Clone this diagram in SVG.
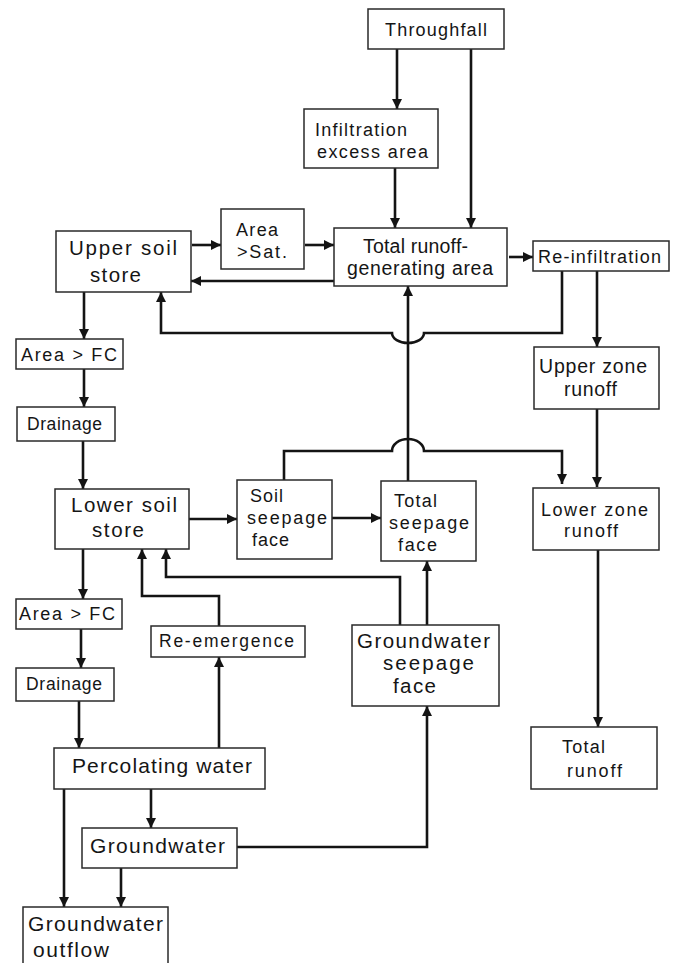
<svg xmlns="http://www.w3.org/2000/svg" width="677" height="963" viewBox="0 0 677 963">
<style>
.box{fill:#fff;stroke:#2a2a2a;stroke-width:1.5}
.t{font-family:"Liberation Sans",Arial,sans-serif;fill:#151515}
.s{font-size:18px}
.xs{font-size:17.5px}
.m{font-size:19.5px}
.l{font-size:20.5px}
.xl{font-size:21px}
.c{fill:none;stroke:#141414;stroke-width:2.6}
.a{marker-end:url(#ah)}
</style>
<defs>
<marker id="ah" markerUnits="userSpaceOnUse" markerWidth="10" markerHeight="11" viewBox="0 0 10 11" refX="10" refY="5.5" orient="auto">
<path d="M0,0.5 L10,5.5 L0,10.5 z" fill="#141414"/>
</marker>
</defs>
<rect width="677" height="963" fill="#fff"/>
<g id="connectors">
<path class="c a" d="M397,49 V109"/>
<path class="c a" d="M471,49 V228"/>
<path class="c a" d="M395,168 V228"/>
<path class="c a" d="M192,245 H221"/>
<path class="c a" d="M305,245 H334"/>
<path class="c a" d="M334,281 H191"/>
<path class="c a" d="M509,257 H533"/>
<path class="c a" d="M562,271 V333 H424 A16 10 0 0 1 392 333 H161 V292"/>
<path class="c a" d="M597,271 V347"/>
<path class="c a" d="M84,292 V339"/>
<path class="c a" d="M84,369 V407"/>
<path class="c a" d="M83,441 V489"/>
<path class="c a" d="M597,409 V487"/>
<path class="c a" d="M284,480 V451 H392 A16 12 0 0 1 424 451 H562 V484"/>
<path class="c a" d="M408,481 V286"/>
<path class="c a" d="M189,519 H237"/>
<path class="c a" d="M332,518 H381"/>
<path class="c a" d="M598,550 V727"/>
<path class="c a" d="M83,549 V599"/>
<path class="c a" d="M81,629 V668"/>
<path class="c a" d="M79,701 V748"/>
<path class="c a" d="M219,748 V657"/>
<path class="c a" d="M219,626 V596 H142 V549"/>
<path class="c a" d="M400,625 V577 H166 V549"/>
<path class="c a" d="M427,625 V561"/>
<path class="c a" d="M151,789 V828"/>
<path class="c a" d="M237,847 H427 V706"/>
<path class="c a" d="M64,789 V907"/>
<path class="c a" d="M121,868 V907"/>
</g>
<g id="throughfall"><rect class="box" x="368" y="9" width="136" height="40"/>
<text class="t s" x="385" y="36" textLength="102" lengthAdjust="spacing">Throughfall</text></g>
<g id="infiltration-excess"><rect class="box" x="304" y="109" width="134" height="59"/>
<text class="t s" x="315" y="136" textLength="92" lengthAdjust="spacing">Infiltration</text>
<text class="t s" x="317" y="158" textLength="111" lengthAdjust="spacing">excess area</text></g>
<g id="area-sat"><rect class="box" x="221" y="209" width="83" height="60"/>
<text class="t s" x="236" y="236" textLength="42" lengthAdjust="spacing">Area</text>
<text class="t s" x="237" y="258" textLength="50" lengthAdjust="spacing">&gt;Sat.</text></g>
<g id="total-runoff-generating"><rect class="box" x="334" y="228" width="173" height="58"/>
<text class="t m" x="363" y="253" textLength="105" lengthAdjust="spacing">Total runoff-</text>
<text class="t m" x="347" y="275" textLength="146" lengthAdjust="spacing">generating area</text></g>
<g id="re-infiltration"><rect class="box" x="533" y="241" width="136" height="30"/>
<text class="t s" x="538" y="263" textLength="123" lengthAdjust="spacing">Re-infiltration</text></g>
<g id="upper-soil-store"><rect class="box" x="56" y="231" width="135" height="61"/>
<text class="t l" x="69" y="255" textLength="108" lengthAdjust="spacing">Upper soil</text>
<text class="t l" x="90" y="282" textLength="51" lengthAdjust="spacing">store</text></g>
<g id="area-fc-1"><rect class="box" x="16" y="339" width="107" height="30"/>
<text class="t s" x="21" y="361" textLength="96" lengthAdjust="spacing">Area &gt; FC</text></g>
<g id="drainage-1"><rect class="box" x="17" y="407" width="98" height="34"/>
<text class="t xs" x="27" y="430" textLength="75" lengthAdjust="spacing">Drainage</text></g>
<g id="upper-zone-runoff"><rect class="box" x="534" y="347" width="125" height="62"/>
<text class="t m" x="539" y="373" textLength="108" lengthAdjust="spacing">Upper zone</text>
<text class="t m" x="564" y="396" textLength="53" lengthAdjust="spacing">runoff</text></g>
<g id="soil-seepage-face"><rect class="box" x="237" y="480" width="95" height="79"/>
<text class="t s" x="250" y="502" textLength="33" lengthAdjust="spacing">Soil</text>
<text class="t s" x="247" y="524" textLength="80" lengthAdjust="spacing">seepage</text>
<text class="t s" x="252" y="546" textLength="37" lengthAdjust="spacing">face</text></g>
<g id="total-seepage-face"><rect class="box" x="381" y="481" width="95" height="80"/>
<text class="t s" x="394" y="507" textLength="43" lengthAdjust="spacing">Total</text>
<text class="t s" x="389" y="529" textLength="80" lengthAdjust="spacing">seepage</text>
<text class="t s" x="398" y="551" textLength="39" lengthAdjust="spacing">face</text></g>
<g id="lower-zone-runoff"><rect class="box" x="533" y="488" width="126" height="62"/>
<text class="t s" x="541" y="516" textLength="107" lengthAdjust="spacing">Lower zone</text>
<text class="t s" x="564" y="537" textLength="54" lengthAdjust="spacing">runoff</text></g>
<g id="lower-soil-store"><rect class="box" x="55" y="489" width="134" height="60"/>
<text class="t l" x="71" y="512" textLength="106" lengthAdjust="spacing">Lower soil</text>
<text class="t l" x="92" y="537" textLength="52" lengthAdjust="spacing">store</text></g>
<g id="area-fc-2"><rect class="box" x="16" y="599" width="106" height="30"/>
<text class="t s" x="19" y="620" textLength="96" lengthAdjust="spacing">Area &gt; FC</text></g>
<g id="re-emergence"><rect class="box" x="151" y="626" width="154" height="31"/>
<text class="t xs" x="159" y="647" textLength="135" lengthAdjust="spacing">Re-emergence</text></g>
<g id="groundwater-seepage-face"><rect class="box" x="352" y="625" width="147" height="81"/>
<text class="t l" x="357" y="648" textLength="133" lengthAdjust="spacing">Groundwater</text>
<text class="t l" x="383" y="670" textLength="91" lengthAdjust="spacing">seepage</text>
<text class="t l" x="393" y="693" textLength="43" lengthAdjust="spacing">face</text></g>
<g id="drainage-2"><rect class="box" x="16" y="668" width="98" height="33"/>
<text class="t xs" x="26" y="690" textLength="76" lengthAdjust="spacing">Drainage</text></g>
<g id="percolating-water"><rect class="box" x="54" y="748" width="211" height="41"/>
<text class="t xl" x="72" y="773" textLength="180" lengthAdjust="spacing">Percolating water</text></g>
<g id="groundwater"><rect class="box" x="82" y="828" width="155" height="40"/>
<text class="t xl" x="90" y="853" textLength="135" lengthAdjust="spacing">Groundwater</text></g>
<g id="groundwater-outflow"><rect class="box" x="23" y="907" width="145" height="62"/>
<text class="t xl" x="28" y="931" textLength="135" lengthAdjust="spacing">Groundwater</text>
<text class="t xl" x="33" y="957" textLength="76" lengthAdjust="spacing">outflow</text></g>
<g id="total-runoff"><rect class="box" x="531" y="727" width="126" height="62"/>
<text class="t s" x="562" y="753" textLength="43" lengthAdjust="spacing">Total</text>
<text class="t s" x="567" y="777" textLength="55" lengthAdjust="spacing">runoff</text></g>
</svg>
